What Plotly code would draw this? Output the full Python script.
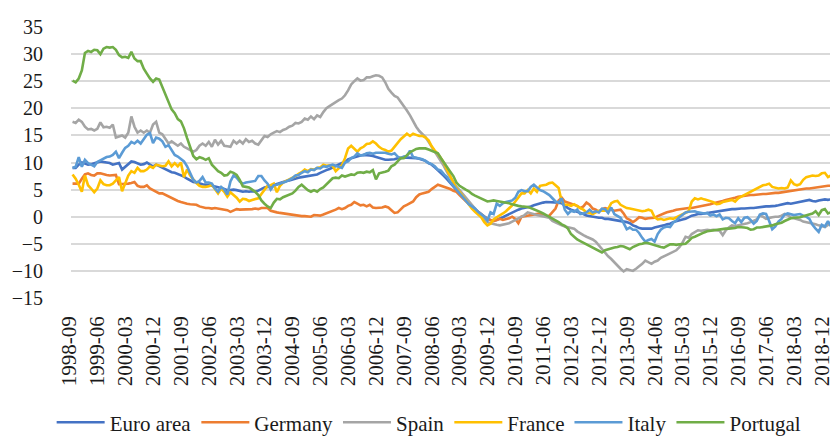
import plotly.graph_objects as go

# Monthly categories 1998-09 .. 2019-06
months = []
y, m = 1998, 9
while (y, m) <= (2019, 6):
    months.append(f"{y}-{m:02d}")
    m += 1
    if m > 12:
        m = 1
        y += 1

tick_labels = months[::9]

euro_area = [
    9.0, 9.0, 9.6, 10.0,
    9.8, 9.6, 9.7, 9.9, 10.0, 10.2, 10.1, 10.0, 9.9, 9.6, 9.8, 9.9,
    8.7, 9.2, 9.7, 10.2, 10.1, 9.8, 9.6, 9.7, 10.0, 9.6, 9.3, 9.6,
    9.3, 9.1, 8.8, 8.5, 8.2, 8.1, 7.9, 7.7, 7.4, 7.0, 6.7, 6.4,
    6.3, 6.1, 6.0, 5.9, 5.9, 5.7, 5.6, 5.5, 5.3, 5.1, 4.9, 4.9,
    5.0, 4.9, 4.7, 4.6, 4.7, 4.6, 4.7, 4.6, 4.8, 5.1, 5.4, 5.5,
    5.7, 5.9, 6.1, 6.3, 6.5, 6.6, 6.7, 6.9, 7.0, 7.2, 7.3, 7.4,
    7.4, 7.5, 7.7, 7.8, 8.1, 8.4, 8.6, 8.8, 9.1, 9.3, 9.6, 9.9,
    10.0, 10.6, 10.8, 11.0, 11.1, 11.3, 11.4, 11.4, 11.3, 11.2, 11.0, 10.8,
    10.6, 10.5, 10.5, 10.5, 10.6, 10.8, 10.9, 10.9, 10.9, 10.9, 10.8, 10.8,
    10.7, 10.5, 10.3, 9.9, 9.6, 9.1, 8.6, 8.0, 7.5, 6.9, 6.3, 5.6,
    4.9, 4.3, 3.6, 3.0, 2.4, 1.8, 1.4, 0.9, 0.5, 0.0, -0.4, -0.6,
    -0.7, -0.6, -0.4, -0.1, 0.2, 0.5, 0.8, 1.1, 1.3, 1.5, 1.6, 1.7,
    1.9, 2.1, 2.3, 2.5, 2.6, 2.7, 2.7, 2.7, 2.7, 2.6, 2.5, 2.0,
    1.6, 1.3, 1.1, 0.9, 0.8, 0.5, 0.2, 0.1, -0.1, -0.1, -0.2, -0.2,
    -0.4, -0.4, -0.5, -0.5, -0.6, -0.7, -0.8, -1.0, -1.2, -1.6, -1.8, -2.1,
    -2.2, -2.2, -2.3, -2.2, -2.0, -1.9, -1.7, -1.6, -1.4, -1.3, -1.0, -0.8,
    -0.7, -0.5, -0.4, -0.1, 0.2, 0.3, 0.5, 0.5, 0.6, 0.7, 0.8, 0.9,
    1.0, 1.1, 1.1, 1.2, 1.3, 1.4, 1.4, 1.5, 1.5, 1.5, 1.6, 1.6,
    1.6, 1.7, 1.7, 1.8, 1.9, 1.9, 1.9, 2.0, 2.1, 2.2, 2.4, 2.5,
    2.4, 2.5, 2.6, 2.7, 2.8, 2.9, 3.1, 2.9, 2.8, 3.0, 3.1, 3.2,
    3.1, 3.2, 3.3, 3.4, 3.2, 3.1,
]

germany = [
    6.1, 6.1, 6.1, 7.0,
    7.8, 8.0, 7.7, 7.6, 8.0, 8.0, 7.8, 7.7, 7.6, 7.7, 7.7, 6.0,
    6.0, 6.1, 6.1, 6.2, 6.4, 5.7, 5.5, 5.5, 5.8, 5.2, 4.9, 4.6,
    4.3, 4.3, 4.0, 3.8, 3.4, 3.1, 2.9, 2.7, 2.5, 2.4, 2.3, 2.2,
    2.2, 1.9, 1.7, 1.6, 1.6, 1.5, 1.6, 1.5, 1.5, 1.3, 1.2, 0.9,
    1.2, 1.4, 1.3, 1.3, 1.4, 1.3, 1.4, 1.5, 1.4, 1.6, 1.6, 1.6,
    1.1, 0.9, 0.8, 0.7, 0.6, 0.6, 0.5, 0.4, 0.2, 0.2, 0.1, 0.1,
    0.0, 0.0, 0.3, 0.2, 0.2, 0.4, 0.6, 0.8, 1.1, 1.3, 1.6, 1.4,
    1.6, 2.0, 2.2, 2.7, 2.4, 2.1, 2.2, 1.9, 2.2, 1.7, 1.6, 1.6,
    1.7, 1.9, 1.7, 1.2, 0.7, 0.8, 1.3, 1.9, 2.2, 2.5, 2.8, 3.6,
    4.1, 4.3, 4.4, 4.6, 5.1, 5.5, 5.9, 5.7, 5.5, 5.4, 5.1, 4.8,
    4.6, 4.0, 3.4, 2.9, 2.4, 1.8, 1.3, 0.9, 0.4, 0.0, -0.4, -0.6,
    -0.8, -0.6, -0.4, -0.6, -0.5, -0.3, 0.0, -0.4, -1.2, 0.0, 0.1, 0.2,
    0.4, 0.5, 0.6, 0.6, 0.3, 0.0, 0.2, 0.8, 1.5, 3.0, 3.5, 2.8,
    2.6, 2.3, 2.2, 2.0, 1.6, 1.9, 2.6, 2.2, 1.5, 1.3, 0.9, 1.4,
    1.6, 1.5, 1.3, 1.1, 1.2, 1.3, 0.6, -0.3, -0.6, -1.0, -0.6, -0.1,
    -0.2, -0.4, -0.3, -0.2, -0.2, 0.1, 0.4, 0.6, 0.8, 0.9, 1.1, 1.3,
    1.4, 1.4, 1.5, 1.6, 1.6, 1.7, 1.8, 1.9, 2.0, 2.2, 2.3, 2.5,
    2.6, 2.8, 2.9, 3.1, 3.2, 3.4, 3.5, 3.7, 3.8, 3.9, 4.0, 4.0,
    4.0, 4.1, 4.1, 4.2, 4.2, 4.3, 4.3, 4.4, 4.4, 4.5, 4.6, 4.7,
    4.7, 4.8, 4.9, 5.0, 5.1, 5.2, 5.2, 5.3, 5.4, 5.5, 5.5, 5.6,
    5.7, 5.7, 5.8, 5.8, 6.0, 6.1,
]

spain = [
    17.5, 17.3, 17.9, 17.5,
    16.6, 16.1, 16.2, 15.9, 16.2, 17.4, 16.5, 16.6, 16.4, 17.0, 14.6, 14.8,
    15.0, 14.6, 15.5, 18.5, 16.6, 15.5, 15.9, 15.5, 15.9, 15.5, 17.0, 17.5,
    15.5, 15.2, 14.3, 13.5, 13.9, 13.5, 13.1, 13.5, 12.9, 12.6, 12.3, 12.0,
    12.3, 13.1, 13.5, 13.1, 13.8, 12.9, 14.2, 13.3, 14.0, 13.1, 13.0, 12.9,
    14.0, 13.5, 14.0, 13.5, 14.3, 13.8, 14.0, 13.5, 13.3, 14.0, 14.9, 14.7,
    15.2, 15.5, 15.8, 15.6, 16.0, 16.2, 16.6, 16.8, 17.3, 17.2, 17.5, 18.1,
    17.9, 18.5, 18.0, 18.7, 18.4, 19.3, 20.0, 20.4, 20.8, 21.2, 21.5, 21.8,
    22.4, 23.3, 24.4, 25.0, 25.5, 25.1, 25.2, 25.7, 25.7, 25.9, 26.1, 26.0,
    25.7, 24.8, 23.6, 22.9, 22.3, 22.0, 21.2, 20.6, 19.6, 18.7, 17.5, 16.6,
    15.8, 15.2, 14.7, 13.8, 12.9, 12.0, 11.3, 10.4, 9.3, 8.2, 7.3, 6.5,
    5.5, 4.9, 4.2, 3.5, 2.8, 2.1, 1.3, 0.7, 0.1, -0.5, -1.0, -1.2,
    -1.4, -1.5, -1.6, -1.5, -1.3, -1.2, -0.9, -0.6, -0.4, -0.1, 0.3, 0.8,
    0.6, 0.5, 0.3, 0.2, 0.1, 0.0, -0.2, -0.8, -1.1, -1.4, -1.6, -1.8,
    -1.9, -2.0, -2.2, -2.7, -3.1, -3.4, -3.7, -3.9, -4.2, -4.6, -5.3, -6.0,
    -6.7, -7.3, -7.8, -8.5, -9.0, -9.6, -10.1, -9.7, -9.9, -10.0, -9.6, -9.2,
    -8.7, -8.1, -8.4, -8.7, -8.3, -8.1, -7.6, -7.3, -7.0, -6.7, -6.5, -6.2,
    -5.6, -4.8, -3.7, -3.9, -3.2, -2.9, -2.5, -2.6, -2.5, -2.4, -2.5, -2.4,
    -2.5, -2.6, -3.4, -2.5, -2.0, -1.6, -1.7, -1.6, -1.5, -1.3, -1.2, -1.0,
    -0.8, -0.5, 0.2, 0.0, -0.4, -0.2, -0.1, 0.0, 0.0, 0.2, 0.5, 0.3,
    -0.2, -0.3, -0.4, -0.6, -0.9, -1.0, -1.2, -1.3, -1.4, -1.6, -1.8, -1.9,
    -1.5, -1.1, -0.9, -0.7, -0.4, -0.2,
]

france = [
    7.8, 7.0, 5.9, 4.6,
    7.6, 5.8, 5.2, 4.5, 5.2, 6.7, 6.0, 5.8, 5.8, 6.1, 6.7, 7.3,
    4.7, 6.1, 7.6, 8.4, 8.1, 9.0, 8.4, 8.4, 8.7, 9.3, 9.0, 9.6,
    9.5, 9.3, 9.4, 10.2, 9.3, 9.9, 9.3, 10.0, 7.3, 8.7, 7.6, 6.8,
    6.2, 5.7, 5.5, 5.5, 5.6, 5.9, 5.2, 4.3, 5.2, 4.6, 3.7, 4.5,
    4.0, 3.5, 2.8, 3.3, 3.2, 2.9, 3.1, 3.2, 3.4, 4.2, 4.9, 5.7,
    5.8, 6.1, 4.5, 5.7, 6.3, 6.6, 6.8, 7.1, 7.5, 7.9, 8.2, 8.7,
    8.4, 8.8, 8.7, 9.0, 9.1, 9.6, 9.4, 9.5, 9.4, 8.4, 9.0, 9.5,
    10.8, 12.6, 13.1, 12.6, 12.0, 12.6, 12.9, 13.4, 13.5, 13.9, 13.5, 12.9,
    12.5, 12.3, 12.0, 12.2, 12.9, 13.8, 14.3, 14.8, 15.3, 14.9, 15.3, 15.1,
    14.9, 14.9, 14.6, 14.1, 13.0, 12.2, 11.6, 10.8, 9.9, 8.6, 7.4, 6.3,
    5.2, 4.6, 3.8, 3.0, 2.2, 1.5, 0.9, 0.4, -0.1, -1.0, -1.6, -1.3,
    -0.5, -0.1, 0.2, 0.6, 1.0, 1.5, 2.1, 2.8, 3.6, 4.3, 4.3, 4.9,
    4.3, 5.2, 4.6, 5.7, 5.8, 5.9, 6.2, 6.3, 5.8, 5.3, 2.8, 2.2,
    2.2, 2.0, 2.3, 1.9, 1.6, 1.3, 0.8, 0.7, 0.5, 0.8, 1.1, 1.1,
    1.1, 1.4, 2.5, 2.8, 2.9, 2.2, 1.9, 1.6, 1.5, 1.4, 1.2, 1.1,
    1.0, 1.1, 1.3, 1.1, -0.1, -0.5, -0.4, -0.6, -0.5, -0.3, -0.4, -0.1,
    0.2, 0.5, 0.8, 1.0, 2.8, 3.4, 3.2, 3.4, 3.2, 3.0, 2.9, 2.7,
    2.3, 2.4, 2.7, 2.8, 3.0, 3.1, 2.8, 3.4, 3.7, 4.0, 4.3, 4.6,
    4.9, 5.1, 5.4, 5.8, 5.9, 6.1, 5.5, 5.3, 5.2, 5.3, 5.2, 5.4,
    6.7, 6.0, 5.8, 6.0, 6.8, 7.3, 7.5, 7.6, 7.5, 7.6, 8.0, 8.1,
    7.3, 7.6, 7.4, 6.6, 6.0, 5.8,
]

italy = [
    9.0, 9.2, 11.0, 9.2,
    10.5, 9.9, 9.6, 9.3, 10.1, 10.4, 10.8, 11.0, 11.1, 11.4, 12.0, 10.8,
    11.8, 12.7, 13.1, 13.8, 13.5, 14.0, 13.5, 14.4, 15.1, 15.4, 13.6, 14.6,
    14.4, 13.9, 12.9, 13.2, 12.3, 11.4, 11.1, 10.6, 10.2, 9.3, 8.0, 6.8,
    6.3, 6.6, 7.3, 6.3, 6.3, 6.1, 5.2, 4.6, 5.5, 5.0, 4.1, 6.5,
    7.6, 7.2, 6.5, 6.1, 6.3, 6.4, 6.4, 6.6, 7.5, 7.5, 6.7, 6.1,
    5.0, 5.8, 5.9, 6.1, 6.2, 6.5, 6.8, 7.1, 7.6, 7.7, 8.1, 8.4,
    8.2, 8.7, 8.6, 9.0, 8.9, 9.3, 9.2, 9.4, 9.6, 9.4, 9.2, 9.0,
    10.0, 10.2, 10.8, 11.1, 11.7, 11.3, 11.4, 11.7, 11.8, 11.6, 11.8, 11.8,
    11.7, 11.8, 11.6, 11.5, 11.7, 11.1, 10.8, 11.1, 11.2, 12.2, 11.0, 10.9,
    10.7, 10.6, 10.3, 9.9, 9.7, 9.3, 8.7, 8.5, 7.8, 7.3, 6.4, 5.6,
    5.0, 4.3, 3.6, 2.9, 2.3, 1.9, 1.5, 0.9, 0.4, 0.0, -0.7, 0.8,
    0.5, 2.4, 2.0, 2.5, 2.7, 2.8, 3.0, 3.5, 4.6, 4.9, 4.7, 4.7,
    5.5, 5.9, 5.3, 4.9, 4.7, 4.4, 4.0, 3.4, 2.8, 2.6, 3.4, 1.3,
    0.5, 1.1, 0.9, 1.3, 0.5, 0.6, 0.8, 1.3, 0.8, 1.0, 0.8, 1.5,
    1.4, 0.7, 1.7, 0.5, 0.1, -0.2, -1.2, -2.3, -2.0, -2.4, -2.4, -3.0,
    -3.9, -4.6, -4.3, -4.1, -4.6, -3.2, -2.4, -2.0, -1.8, -1.9, -1.1, -0.7,
    -0.1, 0.4, 0.8, 0.9, 1.0, 1.0, 0.8, 0.7, 0.6, 0.7, 0.2, 0.4,
    0.1, 0.4, -0.5, -0.2, -0.3, -0.8, -1.2, -0.3, -1.0, -0.2, -0.1, -0.6,
    -1.3, -0.8, 0.4, 0.6, 0.5, -0.8, -2.3, -1.8, -0.9, -0.4, 0.4, 0.6,
    0.5, 0.3, 0.4, 0.5, 0.2, 0.0, -0.4, -1.5, -2.2, -2.8, -1.5, -1.8,
    -0.8, -1.8, -1.3, -1.7, -1.0, -1.6,
]

portugal = [
    25.1, 24.8, 25.5, 27.0,
    30.2, 30.6, 30.4, 30.8, 30.7, 30.0, 31.0, 31.3, 31.2, 31.3, 30.8, 29.8,
    29.4, 29.5, 29.3, 30.4, 29.2, 28.7, 28.7, 27.3, 26.4, 25.5, 24.9, 25.5,
    25.3, 24.0, 22.7, 21.2, 19.8, 19.1, 18.0, 17.6, 16.3, 14.5, 12.8, 11.2,
    10.6, 11.0, 10.8, 10.5, 10.8, 9.6, 9.0, 8.4, 8.1, 7.6, 7.7, 8.3,
    8.1, 7.7, 6.8, 5.6, 5.5, 5.4, 5.0, 4.6, 4.0, 3.0, 2.4, 1.9,
    1.6, 2.6, 3.3, 3.2, 3.6, 3.8, 4.1, 4.3, 4.8, 5.5, 5.9, 5.3,
    4.9, 4.6, 4.9, 4.6, 5.1, 5.4, 6.0, 6.5, 7.1, 7.2, 7.1, 7.6,
    7.4, 7.6, 7.8, 7.7, 8.1, 8.2, 8.1, 8.3, 8.2, 8.6, 6.9, 8.0,
    8.1, 8.3, 8.5, 9.3, 9.6, 10.2, 10.8, 10.8, 11.3, 11.9, 12.2, 12.5,
    12.6, 12.6, 12.6, 12.4, 12.2, 12.0, 11.7, 10.8, 9.9, 9.1, 8.3, 7.5,
    6.3, 5.7, 5.3, 5.0, 4.7, 4.2, 3.9, 3.6, 3.4, 3.1, 2.8, 2.9,
    3.0, 2.9, 2.8, 2.8, 2.6, 2.5, 2.3, 2.1, 2.0, 1.9, 1.9, 1.8,
    1.6, 1.4, 1.1, 0.9, 0.6, 0.3, 0.0, -0.3, -0.6, -1.0, -1.4, -1.7,
    -2.2, -3.2, -3.7, -4.2, -4.5, -4.8, -5.1, -5.3, -5.6, -5.9, -6.3, -6.6,
    -6.2, -6.0, -5.8, -5.7, -5.6, -5.4, -5.5, -5.7, -6.0, -5.6, -5.3, -5.1,
    -5.0, -4.8, -4.9, -5.1, -5.3, -5.5, -5.6, -5.7, -5.4, -5.1, -5.1, -5.2,
    -5.1, -5.0, -5.0, -4.5, -3.9, -3.7, -3.4, -3.1, -2.9, -2.7, -2.6, -2.5,
    -2.4, -2.4, -2.3, -2.2, -2.2, -2.2, -2.1, -1.9, -1.9, -2.0, -2.1, -2.4,
    -2.3, -2.0, -2.0, -1.9, -1.9, -1.7, -1.6, -1.4, -1.3, -1.1, -0.8, -0.5,
    -0.3, -0.2, -0.2, -0.1, 0.1, 0.3, 0.5, 0.6, 1.0, 0.3, 1.2, 1.4,
    0.6, 0.8, 0.6, 1.0, 1.3, 1.6,
]

series_names = ["Euro area", "Germany", "Spain", "France", "Italy", "Portugal"]
series_values = [euro_area, germany, spain, france, italy, portugal]
series_colors = ["#4472C4", "#ED7D31", "#A5A5A5", "#FFC000", "#5B9BD5", "#70AD47"]

y_ticks = [35, 30, 25, 20, 15, 10, 5, 0, -5, -10, -15]

FONT = "Liberation Serif, Times New Roman, serif"
TEXT = "#1a1a1a"

fig = go.Figure()
for name, vals, col in zip(series_names, series_values, series_colors):
    n = min(len(vals), len(months))
    fig.add_trace(go.Scatter(
        x=months[:n], y=vals[:n], name=name, mode="lines",
        line=dict(color=col, width=2.6),
    ))

fig.update_layout(
    width=838, height=436,
    margin=dict(l=63, r=1, t=19, b=135),
    paper_bgcolor="white", plot_bgcolor="white",
    font=dict(family=FONT, size=20, color=TEXT),
    showlegend=True,
    legend=dict(
        orientation="h", x=-0.025, xanchor="left", y=-0.46, yanchor="middle",
        font=dict(family=FONT, size=21, color=TEXT),
        itemwidth=48, traceorder="normal",
    ),
    xaxis=dict(
        type="category", categoryorder="array", categoryarray=months,
        range=[-0.5, len(months) - 0.5],
        tickmode="array", tickvals=tick_labels, ticktext=tick_labels,
        tickangle=-90, showgrid=False, zeroline=False, showline=False,
        ticks="", ticklabelstandoff=13, ticklabelshift=-3,
        tickfont=dict(family=FONT, size=21, color=TEXT),
    ),
    yaxis=dict(
        range=[-15, 35], tickmode="array", tickvals=y_ticks,
        showgrid=True, gridcolor="#D9D9D9", gridwidth=1.5,
        zeroline=True, zerolinecolor="#D9D9D9", zerolinewidth=1.5,
        showline=False, ticks="", ticklabelstandoff=27,
        tickfont=dict(family=FONT, size=20, color=TEXT),
    ),
)

fig.write_html("out.html")
